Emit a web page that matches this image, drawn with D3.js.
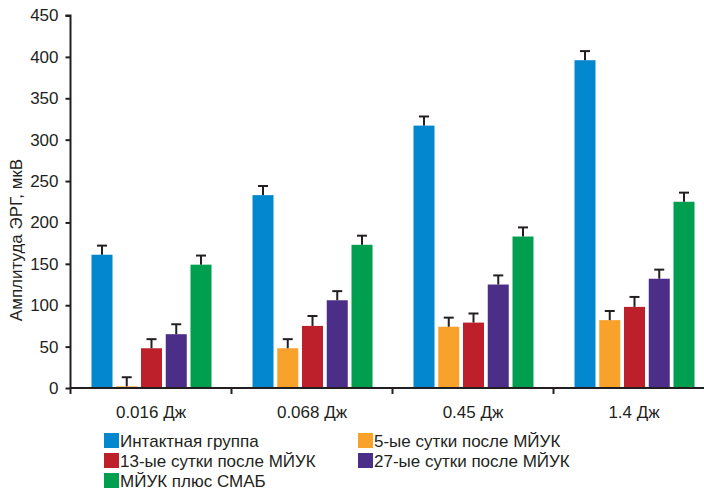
<!DOCTYPE html>
<html>
<head>
<meta charset="utf-8">
<script src="https://cdn.jsdelivr.net/npm/d3@7"></script>
<style>
  html, body { margin: 0; padding: 0; background: #fff; }
  svg { display: block; font-family: "Liberation Sans", Arial, sans-serif; }
</style>
</head>
<body>
<svg id="chart" width="704" height="490"></svg>
<script>
// Flash intensities (x categories)
const categories = ["0.016 Дж", "0.068 Дж", "0.45 Дж", "1.4 Дж"];

// Groups
const seriesNames = [
  "Интактная группа",
  "5-ые сутки после МЙУК",
  "13-ые сутки после МЙУК",
  "27-ые сутки после МЙУК",
  "МЙУК плюс СМАБ"
];
const seriesColors = ["#0388cf", "#f8a12b", "#bd1f2b", "#4a2e87", "#009f4f"];

// ERG amplitude, µV (mean per intensity)
const intactValues   = [161, 233, 317, 396];
const day5Values     = [2, 48, 74, 82];
const day13Values    = [48, 75, 79, 98];
const day27Values    = [65, 106, 125, 132];
const smabValues     = [149, 173, 183, 225];

// Error (upper whisker), µV
const intactErr = [11, 11, 11, 11];
const day5Err   = [11, 11, 11, 11];
const day13Err  = [11, 12, 11, 12];
const day27Err  = [12, 11, 11, 11];
const smabErr   = [11, 11, 11, 11];

const yTicks = [0, 50, 100, 150, 200, 250, 300, 350, 400, 450];
const yTitle = "Амплитуда ЭРГ, мкВ";

const allValues = [intactValues, day5Values, day13Values, day27Values, smabValues];
const allErrors = [intactErr, day5Err, day13Err, day27Err, smabErr];

const FS = 17;
const svg = d3.select("#chart");

const plot = { left: 70.5, top: 15.5, bottom: 388, groupW: 161 };

const x0 = d3.scaleBand()
  .domain(categories)
  .range([plot.left, plot.left + plot.groupW * categories.length])
  .paddingInner(0).paddingOuter(0);

const x1 = d3.scaleBand()
  .domain(d3.range(seriesNames.length))
  .range([21, 141])
  .paddingInner(0.1515).paddingOuter(0);

const y = d3.scaleLinear().domain([0, 450]).range([plot.bottom, plot.top]);

// Bars
const rows = [];
categories.forEach((c, ci) => {
  seriesNames.forEach((s, si) => {
    rows.push({ c, si, v: allValues[si][ci], e: allErrors[si][ci] });
  });
});

const g = svg.append("g");

g.selectAll("rect.bar")
  .data(rows)
  .join("rect")
  .attr("class", "bar")
  .attr("x", d => x0(d.c) + x1(d.si))
  .attr("width", x1.bandwidth())
  .attr("y", d => y(d.v))
  .attr("height", d => y(0) - y(d.v))
  .attr("fill", d => seriesColors[d.si]);

// Error whiskers (upper only)
const eb = g.selectAll("g.err").data(rows).join("g").attr("class", "err")
  .attr("stroke", "#231f20").attr("stroke-width", 2);
eb.append("line")
  .attr("x1", d => x0(d.c) + x1(d.si) + x1.bandwidth() / 2)
  .attr("x2", d => x0(d.c) + x1(d.si) + x1.bandwidth() / 2)
  .attr("y1", d => y(d.v))
  .attr("y2", d => y(d.v + d.e));
eb.append("line")
  .attr("x1", d => x0(d.c) + x1(d.si) + x1.bandwidth() / 2 - 5)
  .attr("x2", d => x0(d.c) + x1(d.si) + x1.bandwidth() / 2 + 5)
  .attr("y1", d => y(d.v + d.e))
  .attr("y2", d => y(d.v + d.e));

// Y axis
const yAxis = d3.axisLeft(y).tickValues(yTicks).tickSize(5).tickPadding(7);
const yg = svg.append("g").attr("transform", `translate(${plot.left},0)`).call(yAxis);
yg.select(".domain").attr("stroke", "#231f20").attr("stroke-width", 2)
  .attr("d", `M-5,${plot.top}H0V${plot.bottom}`);
yg.selectAll(".tick line").attr("stroke", "#231f20").attr("stroke-width", 2);
yg.selectAll(".tick text").attr("font-size", FS).attr("fill", "#231f20")
  .attr("font-family", "'Liberation Sans', Arial, sans-serif");

// X axis (category separators)
const xg = svg.append("g").attr("transform", `translate(0,${plot.bottom})`);
xg.append("line")
  .attr("x1", plot.left).attr("x2", 704)
  .attr("stroke", "#231f20").attr("stroke-width", 2);
xg.selectAll("line.sep")
  .data(categories)
  .join("line")
  .attr("class", "sep")
  .attr("x1", d => x0(d)).attr("x2", d => x0(d))
  .attr("y1", 0).attr("y2", 6)
  .attr("stroke", "#231f20").attr("stroke-width", 2);
xg.selectAll("text")
  .data(categories)
  .join("text")
  .attr("x", d => x0(d) + x0.bandwidth() / 2)
  .attr("y", 30)
  .attr("text-anchor", "middle")
  .attr("font-size", FS)
  .attr("fill", "#231f20")
  .text(d => d);

// Y axis title
svg.append("text")
  .attr("transform", "translate(22,240) rotate(-90)")
  .attr("text-anchor", "middle")
  .attr("font-size", FS)
  .attr("fill", "#231f20")
  .text(yTitle);

// Legend
const legendPos = [
  { x: 104, y: 433 }, { x: 358, y: 433 },
  { x: 104, y: 453 }, { x: 358, y: 453 },
  { x: 104, y: 473 }
];
const lg = svg.selectAll("g.legend").data(seriesNames).join("g")
  .attr("class", "legend")
  .attr("transform", (d, i) => `translate(${legendPos[i].x},${legendPos[i].y})`);
lg.append("rect").attr("width", 15).attr("height", 15)
  .attr("fill", (d, i) => seriesColors[i]);
lg.append("text").attr("x", 16).attr("y", 14)
  .attr("font-size", FS).attr("fill", "#231f20")
  .text(d => d);
</script>
</body>
</html>
